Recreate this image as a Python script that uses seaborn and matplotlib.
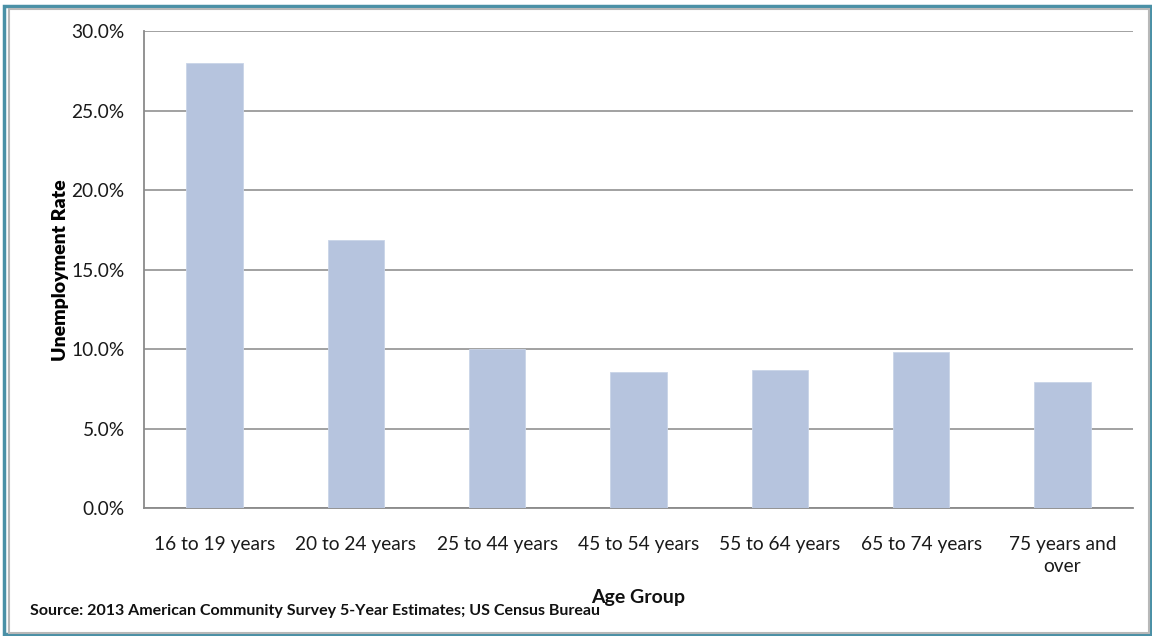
import matplotlib
matplotlib.use("Agg")
import matplotlib.pyplot as plt
from matplotlib.patches import Rectangle
from matplotlib.ticker import FuncFormatter, FixedLocator
import seaborn as sns
import pandas as pd

# Unemployment rate by age group (percent)
age_groups = ["16 to 19 years", "20 to 24 years", "25 to 44 years", "45 to 54 years",
              "55 to 64 years", "65 to 74 years", "75 years and\nover"]
unemployment_rate = [28.0, 16.9, 10.0, 8.55, 8.7, 9.8, 7.95]
y_ticks = [0, 5, 10, 15, 20, 25, 30]

df = pd.DataFrame({"Age Group": age_groups, "Rate": unemployment_rate})

sns.set_style("white")
plt.rcParams["font.family"] = ["Lato", "DejaVu Sans"]

fig = plt.figure(figsize=(11.52, 6.36), dpi=100)
ax = fig.add_axes([0.125, 0.2013, 0.8585, 0.7492])

sns.barplot(data=df, x="Age Group", y="Rate", color="#b6c4de", saturation=1,
            width=0.4, ax=ax, zorder=3, edgecolor="#c9d4e8", linewidth=0.6)

ax.set_xlim(-0.5, len(age_groups) - 0.5)
ax.set_ylim(0, 30)
ax.yaxis.set_major_locator(FixedLocator(y_ticks))
ax.yaxis.set_major_formatter(FuncFormatter(lambda v, p: f"{v:.1f}%"))
ax.grid(axis="y", color="#9a9a9a", linewidth=1.3, zorder=0)

# category labels centred, tick marks on category boundaries
ax.set_xticks(range(len(age_groups)))
ax.set_xticklabels(age_groups, fontsize=13.8, color="#1a1a1a", linespacing=1.35)
ax.tick_params(axis="x", length=0, pad=20)
ax.set_xticks([i - 0.5 for i in range(len(age_groups) + 1)], minor=True)
ax.tick_params(axis="x", which="minor", length=6, width=1.2, color="#8a8a8a", direction="out")
ax.tick_params(axis="y", length=6, width=1.2, color="#8a8a8a", direction="out",
               labelsize=13.8, labelcolor="#1a1a1a", pad=8)

for side in ("top", "right"):
    ax.spines[side].set_visible(False)
for side in ("left", "bottom"):
    ax.spines[side].set_color("#8a8a8a")
    ax.spines[side].set_linewidth(1.3)

ax.set_xlabel("Age Group", fontsize=14, fontweight="bold", color="#111111", labelpad=10)
ax.set_ylabel("Unemployment Rate", fontsize=14, fontweight="heavy", color="#000000", labelpad=2)

fig.text(0.026, 0.039, "Source: 2013 American Community Survey 5-Year Estimates; US Census Bureau",
         fontsize=11.5, fontweight="bold", color="#111111", ha="left", va="center")

# outer frame
W, H = 1152, 636
fig.patches.append(Rectangle((4 / W, 2 / H), 1 - 6 / W, 1 - 8 / H, transform=fig.transFigure,
                             fill=False, edgecolor="#4a90a6", linewidth=2.5))
fig.patches.append(Rectangle((9 / W, 3 / H), 1 - 12 / W, 1 - 12 / H, transform=fig.transFigure,
                             fill=False, edgecolor="#b8b8b8", linewidth=1.5))

fig.savefig("out.png", dpi=100)
